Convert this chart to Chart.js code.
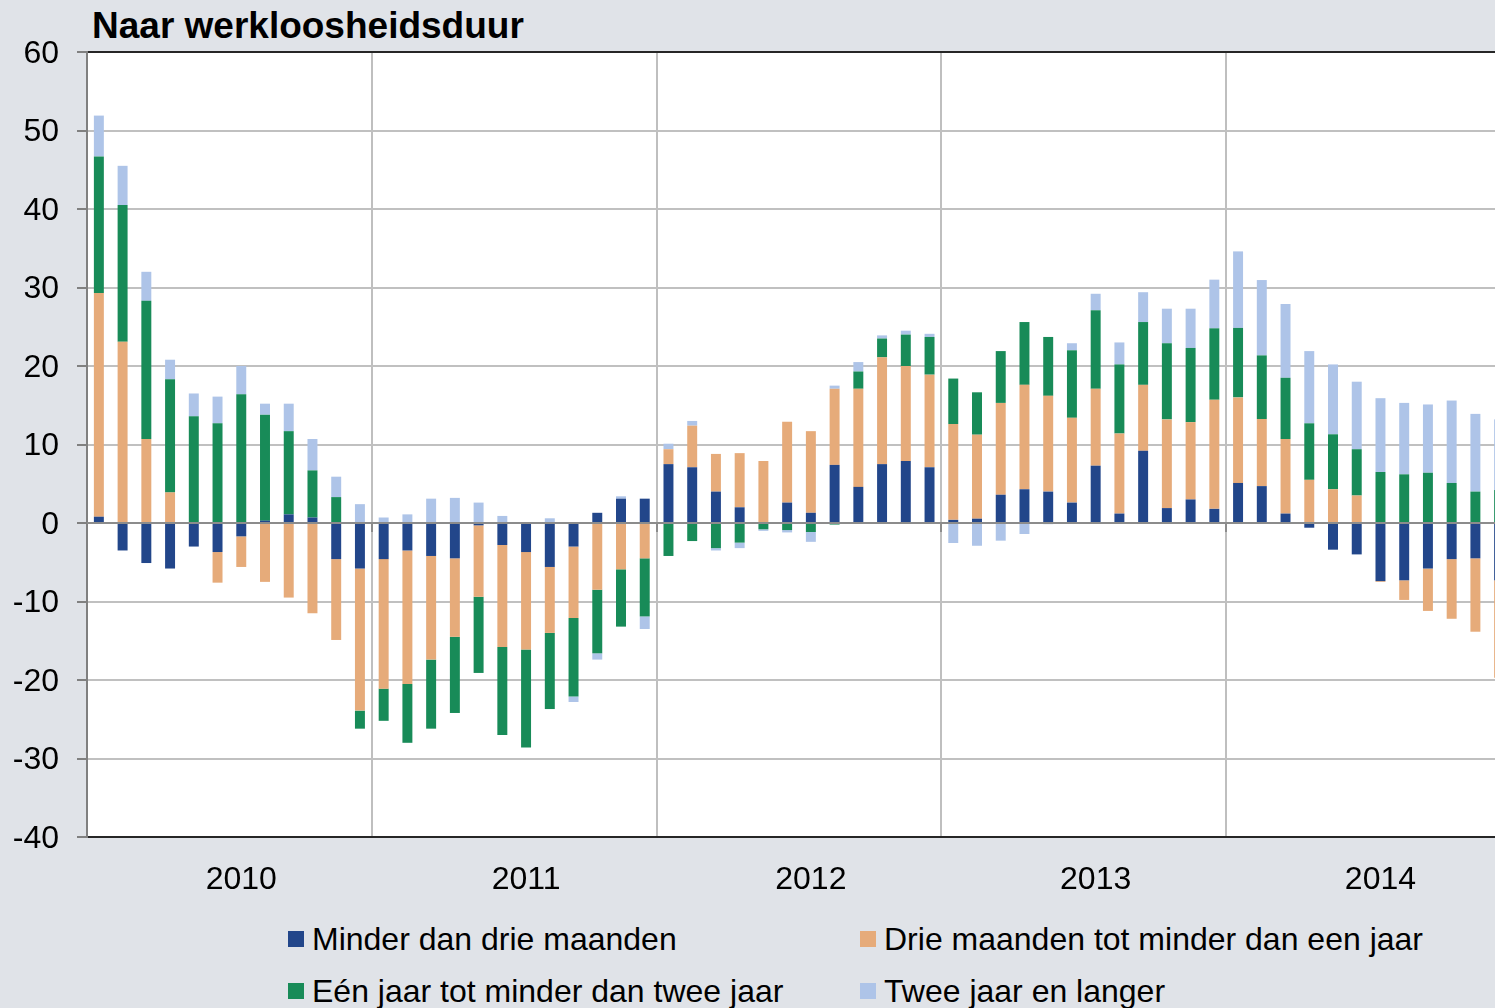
<!DOCTYPE html>
<html>
<head>
<meta charset="utf-8">
<script src="https://cdn.jsdelivr.net/npm/chart.js@4/dist/chart.umd.min.js"></script>
<style>
  html, body { margin: 0; padding: 0; }
  body { width: 1495px; height: 1008px; overflow: hidden; background: #e0e3e8; position: relative;
         font-family: "Liberation Sans", Arial, sans-serif; color: #000; }
  #title { position: absolute; left: 92px; top: 7px; font-weight: bold; font-size: 37px; line-height: 37px; white-space: nowrap; }
  #chartWrap { position: absolute; left: 0; top: 0; width: 1515px; height: 900px; }
  .leg { position: absolute; font-size: 32px; line-height: 32px; white-space: nowrap; }
  .sw { position: absolute; width: 16px; height: 16px; }
</style>
</head>
<body>
<div id="title">Naar werkloosheidsduur</div>
<div id="chartWrap"><canvas id="c" width="1515" height="900"></canvas></div>
<div id="legend"></div>
<script>
// ---- data ----
const years = ["2010", "2011", "2012", "2013", "2014"];
const months = [];
years.forEach(y => { for (let m = 1; m <= 12; m++) months.push(y + "-" + String(m).padStart(2, "0")); });

const seriesNames = [
  "Minder dan drie maanden",
  "Drie maanden tot minder dan een jaar",
  "Eén jaar tot minder dan twee jaar",
  "Twee jaar en langer"
];
const seriesColors = ["#22468a", "#e6ab7a", "#188b58", "#aec4e8"];

const minderDanDrie = [
  0.8, -3.5, -5.1, -5.8, -3.0, -3.7, -1.7, 0.3, 1.1, 0.7, -4.6, -5.8,
  -4.6, -3.5, -4.2, -4.5, -0.3, -2.8, -3.7, -5.6, -3.0, 1.3, 3.1, 3.1,
  7.5, 7.1, 4.0, 2.0, 0.0, 2.6, 1.3, 7.4, 4.6, 7.5, 7.9, 7.1,
  0.4, 0.55, 3.6, 4.3, 4.0, 2.6, 7.3, 1.2, 9.2, 1.9, 3.0, 1.8,
  5.1, 4.7, 1.2, -0.6, -3.4, -4.0, -7.4, -7.3, -5.8, -4.6, -4.5, -7.3
];
const drieMaandenTotJaar = [
  28.5, 23.1, 10.7, 3.9, 0, -3.9, -3.9, -7.5, -9.5, -11.5, -10.3, -18.1,
  -16.5, -17.0, -13.2, -10.0, -9.1, -13.0, -12.4, -8.4, -9.1, -8.5, -5.9, -4.5,
  1.9, 5.3, 4.8, 6.9, 7.9, 10.3, 10.4, 9.7, 12.5, 13.6, 12.1, 11.8,
  12.2, 10.7, 11.7, 13.3, 12.2, 10.8, 9.8, 10.2, 8.4, 11.3, 9.85, 13.9,
  10.9, 8.55, 9.5, 5.5, 4.3, 3.5, -0.1, -2.5, -5.4, -7.6, -9.35, -12.4
];
const eenTotTweeJaar = [
  17.4, 17.4, 17.6, 14.4, 13.6, 12.7, 16.4, 13.5, 10.6, 6.0, 3.3, -2.3,
  -4.1, -7.5, -8.8, -9.7, -9.7, -11.2, -12.5, -9.7, -10.0, -8.1, -7.3, -7.4,
  -4.2, -2.3, -3.2, -2.5, -0.8, -0.9, -1.15, -0.2, 2.2, 2.4, 4.0, 4.8,
  5.8, 5.4, 6.6, 8.0, 7.5, 8.6, 10.0, 8.8, 8.0, 9.7, 9.45, 9.1,
  8.85, 8.1, 7.8, 7.2, 7.0, 5.9, 6.5, 6.2, 6.4, 5.1, 4.0, 4.2
];
const tweeJaarEnLanger = [
  5.2, 5.0, 3.7, 2.5, 2.9, 3.4, 3.6, 1.4, 3.5, 4.0, 2.6, 2.4,
  0.7, 1.1, 3.1, 3.2, 2.6, 0.9, 0, 0.6, -0.7, -0.8, 0.3, -1.6,
  0.7, 0.6, -0.3, -0.7, -0.2, -0.3, -1.25, 0.4, 1.2, 0.4, 0.5, 0.4,
  -2.55, -2.9, -2.25, -1.4, -0.15, 0.9, 2.1, 2.8, 3.8, 4.4, 5.0, 6.2,
  9.75, 9.6, 9.4, 9.2, 8.9, 8.6, 9.4, 9.1, 8.7, 10.5, 9.9, 9.0
];
const yTicks = [-40, -30, -20, -10, 0, 10, 20, 30, 40, 50, 60];

const seriesValues = [minderDanDrie, drieMaandenTotJaar, eenTotTweeJaar, tweeJaarEnLanger];

// ---- legend (HTML) ----
const legendPos = [[288, 923], [860, 923], [288, 975], [860, 975]];
const legendEl = document.getElementById("legend");
seriesNames.forEach((name, i) => {
  const [lx, ly] = legendPos[i];
  const sw = document.createElement("div");
  sw.className = "sw";
  sw.style.left = lx + "px"; sw.style.top = (ly + 8) + "px";
  sw.style.background = seriesColors[i];
  legendEl.appendChild(sw);
  const t = document.createElement("div");
  t.className = "leg";
  t.style.left = (lx + 24) + "px"; t.style.top = ly + "px";
  t.textContent = name;
  legendEl.appendChild(t);
});

// ---- plugins ----
const plotBg = {
  id: "plotBg",
  beforeDraw(chart) {
    const { ctx, chartArea: a } = chart;
    ctx.save();
    ctx.fillStyle = "#ffffff";
    ctx.fillRect(a.left, a.top, a.right - a.left, a.bottom - a.top);
    ctx.restore();
  }
};
const zeroAxis = {
  id: "zeroAxis",
  afterDatasetsDraw(chart) {
    const { ctx, chartArea: a, scales } = chart;
    const y0 = scales.y.getPixelForValue(0);
    ctx.save();
    ctx.strokeStyle = "#8c8c8c";
    ctx.lineWidth = 2;
    ctx.beginPath();
    ctx.moveTo(a.left, y0); ctx.lineTo(a.right, y0);
    ctx.stroke();
    for (let i = 12; i < months.length; i += 12) {
      const x = Math.round((scales.x.getPixelForValue(i - 1) + scales.x.getPixelForValue(i)) / 2);
      ctx.beginPath();
      ctx.moveTo(x, y0); ctx.lineTo(x, y0 + 9);
      ctx.stroke();
    }
    ctx.restore();
  }
};

const FONT = { family: "'Liberation Sans', Arial, sans-serif", size: 32 };

new Chart(document.getElementById("c"), {
  type: "bar",
  data: {
    labels: months,
    datasets: seriesNames.map((n, i) => ({
      label: n,
      data: seriesValues[i],
      backgroundColor: seriesColors[i],
      borderWidth: 0,
      barPercentage: 0.42,
      categoryPercentage: 1.0
    }))
  },
  options: {
    responsive: false,
    devicePixelRatio: 1,
    animation: false,
    layout: { padding: { top: 52, right: 4, bottom: 0, left: 0 } },
    plugins: { legend: { display: false }, tooltip: { enabled: false }, title: { display: false } },
    scales: {
      x: {
        stacked: true,
        afterFit(scale) { scale.height = 63; scale.paddingLeft = 0; scale.paddingRight = 0; },
        grid: {
          offset: true,
          drawTicks: false,
          color: (c) => (c.index % 12 === 0 && c.index > 0) ? "#bfbfbf" : "rgba(0,0,0,0)",
          lineWidth: 2
        },
        border: { display: true, color: "#262626", width: 2 },
        ticks: {
          autoSkip: false,
          maxRotation: 0,
          minRotation: 0,
          padding: 24,
          color: "#000",
          font: FONT,
          callback: (v, i) => (i % 12 === 6 ? months[i].slice(0, 4) : "")
        }
      },
      y: {
        stacked: true,
        min: yTicks[0],
        max: yTicks[yTicks.length - 1],
        afterFit(scale) { scale.width = 87; },
        afterBuildTicks(scale) { scale.ticks = yTicks.map(v => ({ value: v })); },
        grid: {
          color: (c) => (c.tick && c.tick.value === 60) ? "#262626" : (c.tick && c.tick.value === 0 ? "#8c8c8c" : "#c0c0c0"),
          lineWidth: 2,
          drawTicks: true,
          tickLength: 10,
          tickColor: "#808080",
          tickWidth: 2
        },
        border: { display: true, color: "#808080", width: 2 },
        ticks: {
          padding: 18,
          labelOffset: 2,
          color: "#000",
          font: FONT,
          callback: (v) => String(v)
        }
      }
    }
  },
  plugins: [plotBg, zeroAxis]
});
</script>
</body>
</html>
